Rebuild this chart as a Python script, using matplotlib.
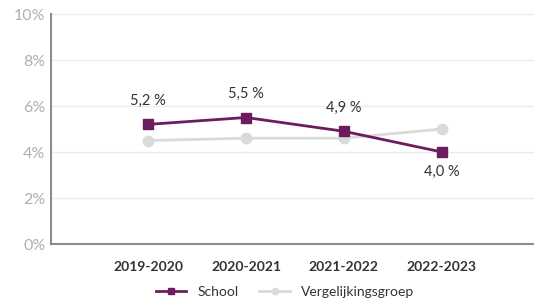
import matplotlib
matplotlib.use('Agg')
import matplotlib.pyplot as plt

plt.rcParams['font.family'] = ['Lato', 'DejaVu Sans']

years = ['2019-2020', '2020-2021', '2021-2022', '2022-2023']
school = [5.2, 5.5, 4.9, 4.0]
vergelijking = [4.5, 4.6, 4.6, 5.0]
school_labels = ['5,2 %', '5,5 %', '4,9 %', '4,0 %']

purple = '#6b1d5e'
grey = '#dadada'

fig = plt.figure(figsize=(5.34, 3.04), dpi=100)
ax = fig.add_axes([51 / 534, 1 - 244 / 304, 1 - 51 / 534, 230 / 304])

x = list(range(len(years)))
ax.plot(x, vergelijking, color=grey, lw=2, marker='o', ms=7.5, label='Vergelijkingsgroep', zorder=2)
ax.plot(x, school, color=purple, lw=2, marker='s', ms=7.5, label='School', zorder=3)

# labels above, last one below
for i, (v, t) in enumerate(zip(school, school_labels)):
    dy = -14 if i == len(school) - 1 else 17
    ax.annotate(t, (i, v), xytext=(0, dy), textcoords='offset points',
                ha='center', va='center', fontsize=10.5, color='#333333')

ax.set_xlim(-0.99, 3.94)
ax.set_ylim(0, 10)
ax.set_yticks(range(0, 11, 2))
ax.set_yticklabels([f'{v}%' for v in range(0, 11, 2)])
ax.set_xticks(x)
ax.set_xticklabels(years, fontweight='bold')

ax.grid(axis='y', color='#ebebeb', lw=1)
ax.set_axisbelow(True)
for s in ['top', 'right']:
    ax.spines[s].set_visible(False)
for s in ['left', 'bottom']:
    ax.spines[s].set_color('#8c8c8c')
    ax.spines[s].set_linewidth(1.5)

ax.tick_params(axis='y', length=0, pad=4, labelsize=11.5, labelcolor='#b0b0b0')
ax.tick_params(axis='x', length=0, pad=12, labelsize=10, labelcolor='#333333')

handles, labels = ax.get_legend_handles_labels()
fig.legend(handles[::-1], labels[::-1], loc='center', bbox_to_anchor=(285 / 534, 1 - 292 / 304),
           ncol=2, frameon=False, fontsize=10, handlelength=2.2, columnspacing=1.5,
           markerscale=0.6, labelcolor='#333333')

fig.savefig('out.png', dpi=100)
